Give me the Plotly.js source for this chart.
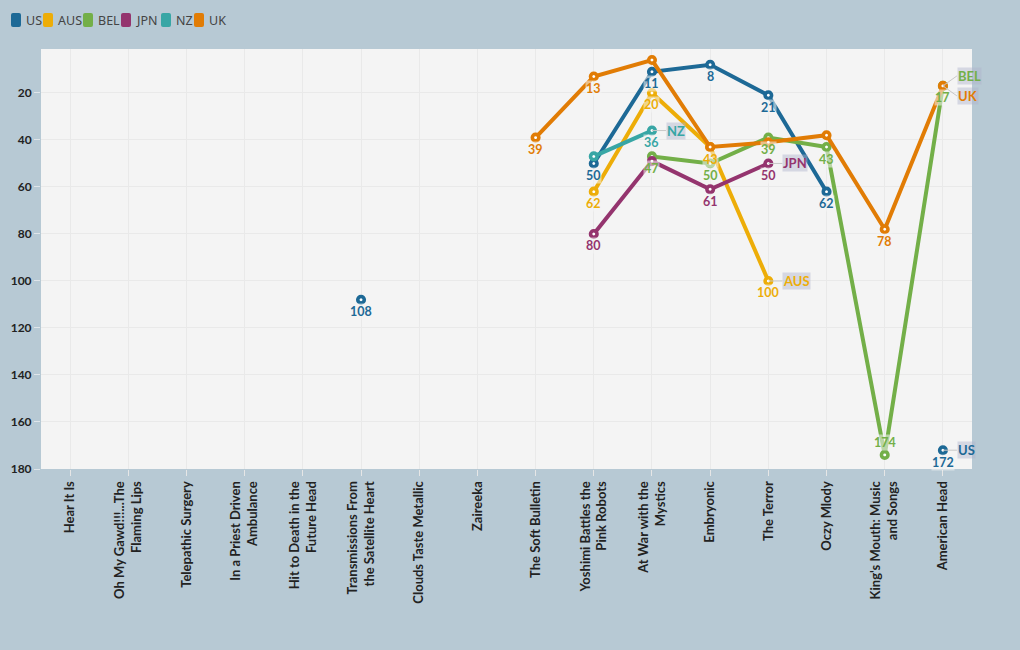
<!DOCTYPE html>
<html>
<head>
<meta charset="utf-8">
<script src="https://cdn.plot.ly/plotly-3.0.1.min.js"></script>
<style>html,body{margin:0;padding:0;background:#b7c9d4;}#chart{width:1020px;height:650px;}</style>
</head>
<body>
<div id="chart"></div>
<script>
const albums = ["Hear It Is","Oh My Gawd!!!...The<br>Flaming Lips","Telepathic Surgery","In a Priest Driven<br>Ambulance","Hit to Death in the<br>Future Head","Transmissions From<br>the Satellite Heart","Clouds Taste Metallic","Zaireeka","The Soft Bulletin","Yoshimi Battles the<br>Pink Robots","At War with the<br>Mystics","Embryonic","The Terror","Oczy Mlody","King's Mouth: Music<br>and Songs","American Head"];

const US  = [null,null,null,null,null,108,null,null,null,50,11,8,21,62,null,172];
const AUS = [null,null,null,null,null,null,null,null,null,62,20,43,100,null,null,null];
const BEL = [null,null,null,null,null,null,null,null,null,null,47,50,39,43,174,17];
const JPN = [null,null,null,null,null,null,null,null,null,80,49,61,50,null,null,null];
const NZ  = [null,null,null,null,null,null,null,null,null,47,36,null,null,null,null,null];
const UK  = [null,null,null,null,null,null,null,null,39,13,6,43,41,38,78,17];

const seriesNames = ["US","AUS","BEL","JPN","NZ","UK"];
const seriesValues = [US,AUS,BEL,JPN,NZ,UK];
const colors = ["#1d6996","#edad08","#73af48","#94346e","#38a6a5","#e17c05"];
// indexes whose value label is hidden (overlapping in the original)
const hiddenLabels = {US:[],AUS:[],BEL:[],JPN:[10],NZ:[9],UK:[10,11,12,13,15]};
const labelsAbove = {BEL:[14]};
// end labels: [series, album index, ax, ay]
const endLabels = [["NZ",10,14,0],["JPN",12,14,0],["AUS",12,14,0],["BEL",15,14,-10],["UK",15,14,10],["US",15,14,0]];

// layout helpers (pixel geometry of the plot area)
const PL = 41, PW = 931, PT = 49, PH = 420;
const px2x = px => (px - PL) / PW;
const py2y = py => (PT + PH - py) / PH;
const legendX = [11, 43, 83, 121, 161, 194];

const traces = [];
const annotations = [];
const labelFont = c => ({family:'Lato, "Noto Sans", sans-serif', size:12.5, weight:'bold', color:c});

seriesNames.forEach((name,i)=>{
  const vals = seriesValues[i];
  traces.push({
    type:'scatter', mode:'lines+markers', x:albums, y:vals, name:name,
    showlegend:false, connectgaps:false, cliponaxis:false,
    line:{color:colors[i], width:4},
    marker:{symbol:'circle', size:6.5, color:'#ffffff', line:{color:colors[i], width:3.6}}
  });
});

// value labels, drawn above all lines
seriesNames.forEach((name,i)=>{
  const vals = seriesValues[i];
  const hid = hiddenLabels[name]||[];
  const above = labelsAbove[name]||[];
  vals.forEach((v,k)=>{
    if (v===null || hid.includes(k)) return;
    annotations.push({
      x: albums[k], y: v, xref:'x', yref:'y', text:String(v), showarrow:false,
      yshift: above.includes(k) ? 12 : -12,
      font: labelFont(colors[i]), bgcolor:'rgba(244,244,244,0.55)', borderpad:0
    });
  });
});

endLabels.forEach(([name,idx,ax,ay])=>{
  const i = seriesNames.indexOf(name);
  annotations.push({
    x: albums[idx], y: seriesValues[i][idx], xref:'x', yref:'y',
    text:'<b>'+name+'</b>', showarrow:true, arrowhead:0, arrowwidth:1, arrowcolor:'#c8c8c8',
    ax:ax, ay:ay, xanchor:'left', yanchor:'middle',
    font:{family:'Lato, "Noto Sans", sans-serif', size:13, color:colors[i]},
    bgcolor:'rgba(175,180,205,0.45)', borderpad:0
  });
});

const shapes = [];
seriesNames.forEach((name,i)=>{
  shapes.push({
    type:'path', xref:'paper', yref:'paper', xsizemode:'pixel', ysizemode:'pixel',
    xanchor:px2x(legendX[i]), yanchor:py2y(20),
    path:'M2,-7 H8 Q10,-7 10,-5 V5 Q10,7 8,7 H2 Q0,7 0,5 V-5 Q0,-7 2,-7 Z',
    fillcolor:colors[i], line:{width:0}
  });
  annotations.push({
    xref:'paper', yref:'paper', x:px2x(legendX[i]+13), y:py2y(20.5), xanchor:'left', yanchor:'middle',
    text:name, showarrow:false,
    font:{family:'"Noto Sans", sans-serif', size:12.5, color:'#444'}
  });
});

const axisFont = {family:'Lato, "Noto Sans", sans-serif', size:12, color:'#222', weight:'bold'};
const xFont = {family:'Lato, "Noto Sans", sans-serif', size:13, color:'#222', weight:'bold'};
const layout = {
  width:1020, height:650,
  paper_bgcolor:'#b7c9d4', plot_bgcolor:'#f4f4f4',
  margin:{l:PL, r:1020-PL-PW, t:PT, b:650-PT-PH},
  showlegend:false,
  xaxis:{type:'category', categoryorder:'array', categoryarray:albums, range:[-0.5,15.5],
         tickangle:-90, tickfont:xFont, showgrid:true, gridcolor:'#e9e9e9',
         ticks:'outside', ticklen:6, tickcolor:'#e6e6e6', zeroline:false, showline:false, fixedrange:true},
  yaxis:{range:[180,1.3], tickvals:[20,40,60,80,100,120,140,160,180], tickfont:axisFont,
         showgrid:true, gridcolor:'#e9e9e9', ticks:'outside', ticklen:6, tickcolor:'#dfe5ea',
         zeroline:false, showline:false, fixedrange:true},
  annotations:annotations,
  shapes:shapes,
  hovermode:'closest'
};

Plotly.newPlot('chart', traces, layout, {displayModeBar:false, staticPlot:true});
</script>
</body>
</html>
